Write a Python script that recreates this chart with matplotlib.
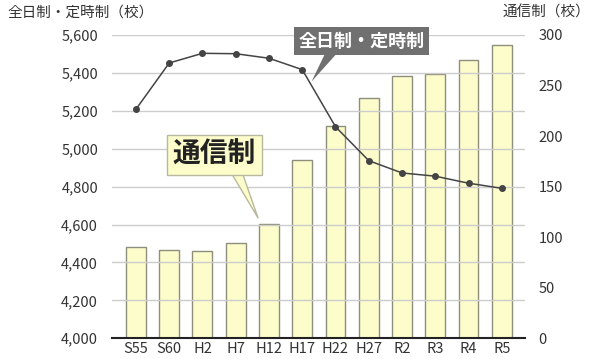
import matplotlib
matplotlib.use('Agg')
import matplotlib.pyplot as plt
import numpy as np

plt.rcParams['font.family'] = ['Noto Sans CJK JP', 'DejaVu Sans']

# data
years = ['S55', 'S60', 'H2', 'H7', 'H12', 'H17', 'H22', 'H27', 'R2', 'R3', 'R4', 'R5']
tsushin = [90, 87, 86, 94, 113, 176, 210, 238, 259, 261, 275, 290]          # 通信制 (right axis)
zennichi = [5208, 5452, 5503, 5501, 5477, 5417, 5116, 4937, 4872, 4855, 4818, 4791]  # 全日制・定時制 (left axis)

left_ticks = [4000, 4200, 4400, 4600, 4800, 5000, 5200, 5400, 5600]
right_ticks = [0, 50, 100, 150, 200, 250, 300]

txt = '#333333'

fig = plt.figure(figsize=(5.99, 3.59), dpi=100)
ax = fig.add_axes([0.187, 0.0577, 0.689, 0.845])
ax2 = ax.twinx()

x = np.arange(len(years))

# bars on the right axis, drawn under the line
ax2.bar(x, tsushin, width=0.6, color='#fdfdcb', edgecolor='#8e8e7c', linewidth=1, zorder=2)
ax2.set_ylim(0, 300)
ax2.set_yticks(right_ticks)
ax2.set_yticklabels([str(v) for v in right_ticks], fontsize=10.5, color=txt)

ax.set_ylim(4000, 5600)
ax.set_yticks(left_ticks)
ax.set_yticklabels(['{:,}'.format(v) for v in left_ticks], fontsize=10.5, color=txt)
ax.set_xlim(-0.72, 11.69)
ax.set_xticks(x)
ax.set_xticklabels(years, fontsize=10.5, color=txt)

for v in left_ticks[1:]:
    ax.axhline(v, color='#cccccc', lw=1, zorder=0)

# line goes on top of bars: put ax above ax2
ax.set_zorder(ax2.get_zorder() + 1)
ax.patch.set_visible(False)
ax.plot(x, zennichi, color='#444444', lw=1.1, marker='o', markersize=4, zorder=5)

for a in (ax, ax2):
    for s in ('top', 'right', 'left'):
        a.spines[s].set_visible(False)
    a.spines['bottom'].set_visible(False)
    a.tick_params(length=0)
ax.spines['bottom'].set_visible(True)
ax.spines['bottom'].set_color('#222222')
ax.spines['bottom'].set_linewidth(1.5)
ax.tick_params(axis='y', pad=10)
ax.tick_params(axis='x', pad=3)
ax2.tick_params(axis='y', pad=10)

# axis titles
fig.text(0.012, 0.965, '全日制・定時制（校）', fontsize=10.5, color=txt, ha='left', va='center')
fig.text(0.985, 0.965, '通信制（校）', fontsize=10.5, color=txt, ha='right', va='center')

# callouts
ax.annotate('全日制・定時制', xy=(5.28, 5354), xytext=(6.78, 5568),
            fontsize=13, fontweight='bold', color='white', ha='center', va='center',
            bbox=dict(boxstyle='square,pad=0.25', fc='#707070', ec='none'),
            arrowprops=dict(arrowstyle='wedge,tail_width=0.7,shrink_factor=0.5',
                            fc='#707070', ec='none', relpos=(0.3, 0.3),
                            patchA=None, shrinkA=0, shrinkB=0),
            zorder=10)
ax.annotate('通信制', xy=(3.67, 4635), xytext=(2.36, 4967),
            fontsize=20, fontweight='bold', color='#222222', ha='center', va='center',
            bbox=dict(boxstyle='square,pad=0.2', fc='#fdfdcb', ec='#b8b8a0', lw=1),
            arrowprops=dict(arrowstyle='wedge,tail_width=0.45,shrink_factor=0.5',
                            fc='#fdfdcb', ec='#b8b8a0', lw=1, relpos=(0.71, 0.25),
                            patchA=None, shrinkA=0, shrinkB=0),
            zorder=10)

fig.savefig('out.png', dpi=100)
